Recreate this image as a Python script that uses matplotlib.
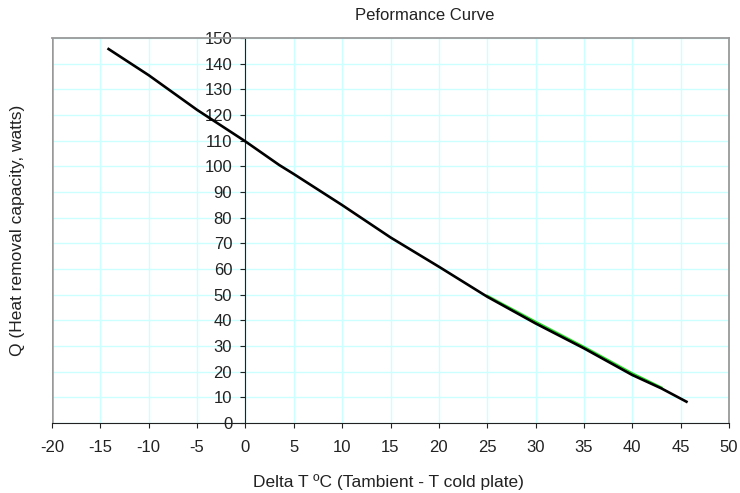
import matplotlib
matplotlib.use("Agg")
import matplotlib.pyplot as plt

plt.rcParams['font.family'] = ['Liberation Sans', 'DejaVu Sans']

delta_t = [-14.15, -10, -5, 0, 3.5, 5, 10, 15, 20, 25, 30, 35, 40, 43, 45.6]
q_watts = [145.7, 135.5, 122, 109.7, 100.5, 97, 84.9, 72.3, 60.9, 49.2, 38.8, 29.1, 18.7, 13.5, 8.3]

# green series, mostly hidden under the black curve
green_x = [25, 30, 35, 40, 43]
green_y = [49.5, 39.4, 29.6, 19.3, 13.8]

x_ticks = list(range(-20, 55, 5))
y_ticks = list(range(0, 160, 10))

fig = plt.figure(figsize=(7.4, 4.93), dpi=100)
ax = fig.add_axes([52 / 740, 70 / 493, 677 / 740, 385 / 493])

# axes cross at the origin (set before ticks, it resets them)
ax.spines['left'].set_position(('data', 0))
ax.spines['left'].set_color("#222222")
ax.spines['bottom'].set_color("#222222")
for s in ['top', 'right']:
    ax.spines[s].set_color("#999999")
    ax.spines[s].set_linewidth(1.3)
ax.axvline(-20, color="#999999", lw=1.8, zorder=2)

ax.plot(green_x, green_y, color="#22dd22", lw=1.8, zorder=3)
ax.plot(delta_t, q_watts, color="black", lw=1.9, zorder=4)

ax.set_xlim(-20, 50)
ax.set_ylim(0, 150)
ax.set_xticks(x_ticks)
ax.set_yticks(y_ticks)
ax.set_xticklabels([str(v) for v in x_ticks])
ax.set_yticklabels([str(v) for v in y_ticks])

ax.grid(True, color="#ccffff", lw=1.0, zorder=0)
ax.set_axisbelow(True)

ax.tick_params(axis='x', direction='out', length=3.5, pad=9, color="#222222",
               labelsize=12, labelcolor="#222222")
ax.tick_params(axis='y', direction='out', length=3.5, pad=6, color="#222222",
               labelsize=12, labelcolor="#222222")

fig.text(425 / 740, 1 - 16 / 493, "Peformance Curve", ha="center", va="center",
         fontsize=12, color="#222222")
fig.text(388 / 740, 1 - 482 / 493, "Delta T ºC (Tambient - T cold plate)", ha="center",
         va="center", fontsize=12.5, color="#222222")
fig.text(18 / 740, 1 - 230 / 493, "Q (Heat removal capacity, watts)", ha="center",
         va="center", rotation=90, fontsize=12.5, color="#222222")

fig.savefig("out.png", dpi=100)
